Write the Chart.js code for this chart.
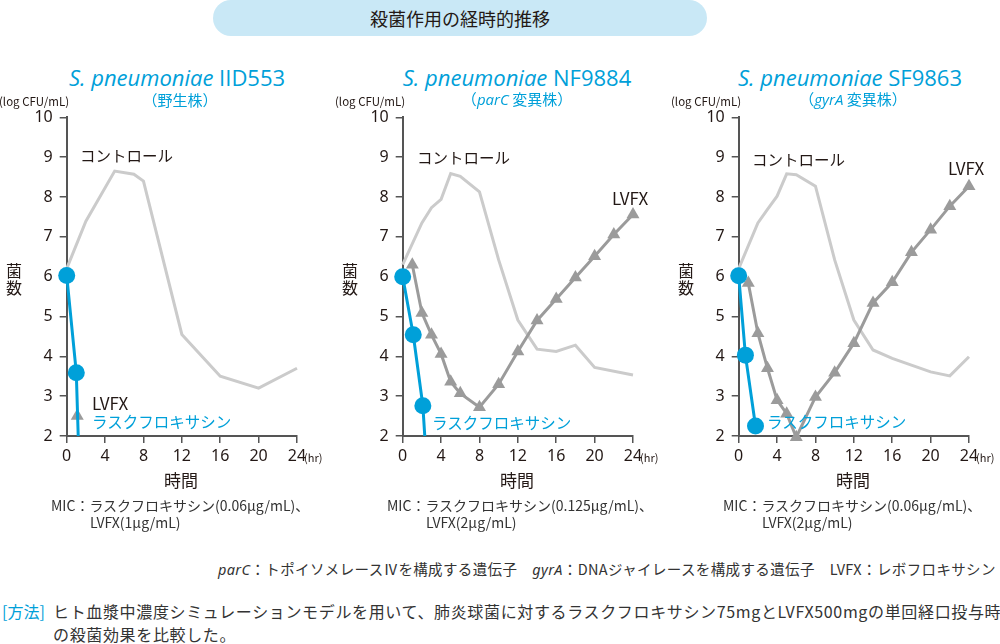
<!DOCTYPE html>
<html lang="ja">
<head>
<meta charset="utf-8">
<script src="https://cdn.jsdelivr.net/npm/chart.js@4.4.1/dist/chart.umd.min.js"></script>
<style>
  html, body { margin: 0; padding: 0; background: #fff; }
  #page { position: relative; width: 1000px; height: 644px; overflow: hidden;
          font-family: "Noto Sans CJK JP", "Noto Sans", sans-serif; color: #231815; }
  canvas { position: absolute; top: 100px; }
  .t { position: absolute; white-space: nowrap; line-height: 1; }
  .c { transform: translate(-50%, -50%); }
  .l { transform: translateY(-50%); }
  .blue { color: #00a0d9; }
  .banner { position: absolute; left: 213px; top: 0; width: 494px; height: 36px;
            background: #c9e8f6; border-radius: 18px; }
  .title { font-family: "Open Sans", "Noto Sans", sans-serif; font-weight: 500; font-size: 22px; }
  .sub { font-size: 15px; }
  .lab { font-size: 15.5px; }
  .lv { font-size: 17px; }
  .mic { font-size: 14px; color: #333; }
</style>
</head>
<body>
<div id="page">
  <div class="banner"></div>
  <div class="t c" style="left:460px;top:18px;font-size:18px;">殺菌作用の経時的推移</div>

  <canvas id="c1" width="330" height="380" style="left:0px"></canvas>
  <canvas id="c2" width="330" height="380" style="left:336px"></canvas>
  <canvas id="c3" width="330" height="380" style="left:672px"></canvas>

  <!-- chart 1 texts -->
  <div class="t c title blue" style="left:177px;top:77px;"><i>S. pneumoniae</i> IID553</div>
  <div class="t c sub blue" style="left:180px;top:99px;">（野生株）</div>
  <!-- chart 2 texts -->
  <div class="t c title blue" style="left:517px;top:77px;"><i>S. pneumoniae</i> NF9884</div>
  <div class="t c sub blue" style="left:517px;top:99px;">（<i style="font-family:'Open Sans'">parC</i> 変異株）</div>
  <!-- chart 3 texts -->
  <div class="t c title blue" style="left:850px;top:77px;"><i>S. pneumoniae</i> SF9863</div>
  <div class="t c sub blue" style="left:853px;top:99px;">（<i style="font-family:'Open Sans'">gyrA</i> 変異株）</div>

  <div id="axisText"></div>

  <div class="t l" style="left:218px;top:569px;font-size:14.5px;letter-spacing:0.37px;color:#333;"><i style="font-family:'Noto Sans'">parC</i>：トポイソメレースⅣを構成する遺伝子　<i style="font-family:'Noto Sans'">gyrA</i>：DNAジャイレースを構成する遺伝子　LVFX：レボフロキサシン</div>
  <div class="t l blue" style="left:2px;top:611px;font-size:16px;">[方法]</div>
  <div class="t l" style="left:53px;top:611px;font-size:16px;letter-spacing:0.65px;color:#333;">ヒト血漿中濃度シミュレーションモデルを用いて、肺炎球菌に対するラスクフロキサシン75mgとLVFX500mgの単回経口投与時</div>
  <div class="t l" style="left:53px;top:634px;font-size:16px;letter-spacing:0.65px;color:#333;">の殺菌効果を比較した。</div>
</div>

<script>
// ---- data (hours, log CFU/mL) ----
const tickHours = [0, 4, 8, 12, 16, 20, 24];

// IID553 (wild type)
const ctrlHours1 = [0, 2, 5, 7, 8, 12, 16, 20, 24];
const ctrlVals1  = [6.2, 7.39, 8.65, 8.57, 8.4, 4.55, 3.5, 3.2, 3.7];
const lvfxHours1 = [0, 1.1];
const lvfxVals1  = [6.0, 2.5];
const lasHours1  = [0, 1, 1.2];
const lasVals1   = [6.03, 3.59, 2.0];   // last value: below detection, line runs to axis

// NF9884 (parC mutant)
const ctrlHours2 = [0, 2, 3, 4, 5, 6, 8, 10, 12, 14, 16, 18, 20, 24];
const ctrlVals2  = [6.3, 7.35, 7.73, 7.94, 8.59, 8.52, 8.13, 6.42, 4.91, 4.18, 4.12, 4.28, 3.72, 3.53];
const lvfxHours2 = [1, 2, 3, 4, 5, 6, 8, 10, 12, 14, 16, 18, 20, 22, 24];
const lvfxVals2  = [6.3, 5.09, 4.54, 4.06, 3.36, 3.07, 2.72, 3.3, 4.12, 4.9, 5.44, 5.98, 6.51, 7.06, 7.56];
const lasHours2  = [0, 1.1, 2.1, 2.3];
const lasVals2   = [6.0, 4.54, 2.76, 2.0];

// SF9863 (gyrA mutant)
const ctrlHours3 = [0, 2, 3, 4, 5, 6, 8, 10, 12, 14, 16, 18, 20, 22, 24];
const ctrlVals3  = [6.2, 7.35, 7.69, 8.02, 8.58, 8.56, 8.27, 6.42, 4.91, 4.16, 3.95, 3.78, 3.61, 3.51, 3.99];
const lvfxHours3 = [1, 2, 3, 4, 5, 6, 8, 10, 12, 14, 16, 18, 20, 22, 24];
const lvfxVals3  = [5.84, 4.58, 3.7, 2.9, 2.56, 1.97, 2.98, 3.59, 4.33, 5.34, 5.86, 6.61, 7.18, 7.77, 8.27];
const lasHours3  = [0, 0.7, 1.75];
const lasVals3   = [6.02, 4.03, 2.25];

const col = {
    blue: '#00a0d9',
    lvfx: '#9b9b9b',
    ctrl: '#cbcbcb',
    axis: '#555555',
    text: '#231815'
};

const toXY = (xs, ys) => xs.map((x, i) => ({ x: x, y: ys[i] }));

const makeChart = (id, s) => {
    const lasRadius = s.lasVals.map((v, i) => (i === s.lasVals.length - 1 && s.lasCut) ? 0 : 8.5);
    return new Chart(document.getElementById(id), {
        type: 'line',
        data: {
            datasets: [
                {   // laskufloxacin
                    data: toXY(s.lasHours, s.lasVals),
                    borderColor: col.blue, backgroundColor: col.blue,
                    borderWidth: 3, pointRadius: lasRadius, pointBorderWidth: 0,
                    tension: 0
                },
                {   // LVFX
                    data: toXY(s.lvfxHours, s.lvfxVals),
                    showLine: s.lvfxLine,
                    borderColor: col.lvfx, backgroundColor: col.lvfx,
                    borderWidth: 3, pointStyle: 'triangle', pointRadius: 7.5, pointBorderWidth: 0,
                    tension: 0
                },
                {   // control
                    data: toXY(s.ctrlHours, s.ctrlVals),
                    borderColor: col.ctrl, borderWidth: 3, pointRadius: 0,
                    tension: 0
                }
            ]
        },
        options: {
            responsive: false,
            animation: false,
            clip: false,
            layout: { padding: { left: 0, top: 17.3, right: 33, bottom: 14 } },
            plugins: { legend: { display: false }, tooltip: { enabled: false } },
            scales: {
                x: {
                    type: 'linear', min: 0, max: 24,
                    afterFit: sc => { sc.height = 30; },
                    afterBuildTicks: sc => { sc.ticks = tickHours.map(v => ({ value: v })); },
                    border: { color: col.axis, width: 2 },
                    grid: { display: true, drawOnChartArea: false, tickLength: 7, color: col.axis, lineWidth: 1.5 },
                    ticks: { color: col.text, padding: 4, maxRotation: 0, font: { family: 'Noto Sans', size: 16 } }
                },
                y: {
                    min: 2, max: 10,
                    afterFit: sc => { sc.width = 66.7; },
                    border: { color: col.axis, width: 2 },
                    grid: { display: true, drawOnChartArea: false, tickLength: 7, color: col.axis, lineWidth: 1.5 },
                    ticks: { stepSize: 1, color: col.text, padding: 7, font: { family: 'Noto Sans', size: 16 } }
                }
            }
        }
    });
};

makeChart('c1', { ctrlHours: ctrlHours1, ctrlVals: ctrlVals1, lvfxHours: lvfxHours1, lvfxVals: lvfxVals1,
                  lvfxLine: false, lasHours: lasHours1, lasVals: lasVals1, lasCut: true });
makeChart('c2', { ctrlHours: ctrlHours2, ctrlVals: ctrlVals2, lvfxHours: lvfxHours2, lvfxVals: lvfxVals2,
                  lvfxLine: true, lasHours: lasHours2, lasVals: lasVals2, lasCut: true });
makeChart('c3', { ctrlHours: ctrlHours3, ctrlVals: ctrlVals3, lvfxHours: lvfxHours3, lvfxVals: lvfxVals3,
                  lvfxLine: true, lasHours: lasHours3, lasVals: lasVals3, lasCut: false });

// axis captions and in-plot labels, per panel (dx = panel shift in px)
const panels = [
    { dx: 0,   mic1: 'MIC：ラスクフロキサシン(0.06μg/mL)、', mic2: 'LVFX(1μg/mL)',
      ctrl: [80, 156], lvfx: [92, 402], las: [92, 422] },
    { dx: 336, mic1: 'MIC：ラスクフロキサシン(0.125μg/mL)、', mic2: 'LVFX(2μg/mL)',
      ctrl: [417, 158], lvfx: [612, 197], las: [432, 423] },
    { dx: 672, mic1: 'MIC：ラスクフロキサシン(0.06μg/mL)、', mic2: 'LVFX(2μg/mL)',
      ctrl: [752, 160], lvfx: [948, 167], las: [767, 422] }
];
let html = '';
panels.forEach(p => {
    html += `<div class="t c" style="left:${p.dx + 34}px;top:102px;font-size:11.5px;">(log CFU/mL)</div>`;
    html += `<div class="t c" style="left:${p.dx + 14}px;top:270px;font-size:16px;">菌</div>`;
    html += `<div class="t c" style="left:${p.dx + 14}px;top:287px;font-size:16px;">数</div>`;
    html += `<div class="t c" style="left:${p.dx + 181}px;top:479px;font-size:17px;">時間</div>`;
    html += `<div class="t l" style="left:${p.dx + 304}px;top:457px;font-size:11px;">(hr)</div>`;
    html += `<div class="t l mic" style="left:${p.dx + 51}px;top:505px;">${p.mic1}</div>`;
    html += `<div class="t l mic" style="left:${p.dx + 90}px;top:522px;">${p.mic2}</div>`;
    html += `<div class="t l lab" style="left:${p.ctrl[0]}px;top:${p.ctrl[1]}px;">コントロール</div>`;
    html += `<div class="t l lv" style="left:${p.lvfx[0]}px;top:${p.lvfx[1]}px;">LVFX</div>`;
    html += `<div class="t l lab blue" style="left:${p.las[0]}px;top:${p.las[1]}px;">ラスクフロキサシン</div>`;
});
document.getElementById('axisText').innerHTML = html;
</script>
</body>
</html>
